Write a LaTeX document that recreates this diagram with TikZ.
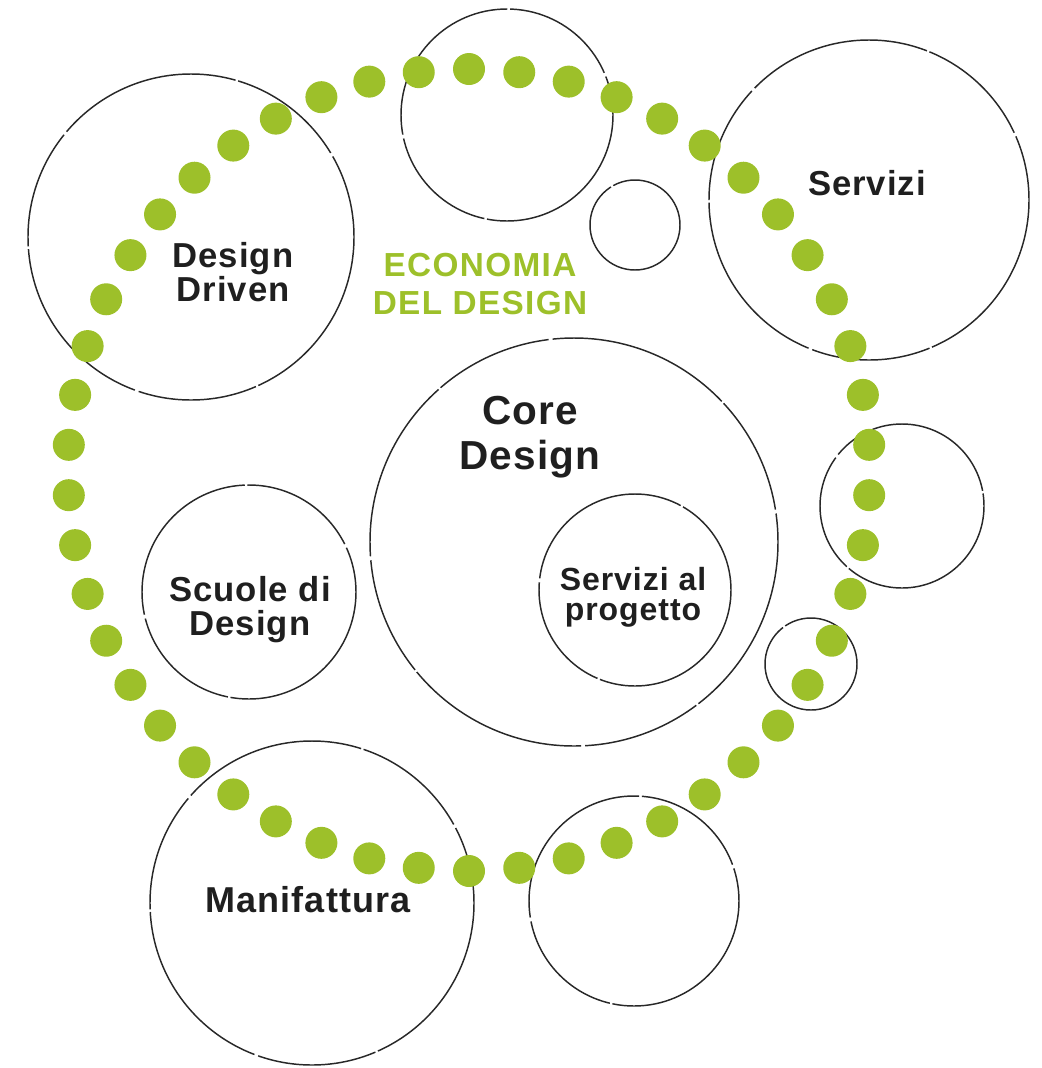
\documentclass[tikz,border=0pt]{standalone}
\usepackage{fontspec}
\setmainfont{Liberation Sans}[LetterSpace=3]
\newfontfamily\econfont{Liberation Sans}[LetterSpace=4]
\definecolor{dotgreen}{RGB}{157,192,42}
\definecolor{inkgray}{RGB}{40,40,40}
\begin{document}
\begin{tikzpicture}[x=0.75pt, y=-0.75pt,
	ring/.style={draw=inkgray, line width=1.1pt, dash pattern=on 140pt off 2pt on 90pt off 3pt},
	lbl/.style={text=black!88, align=center, inner sep=0pt}]
	\useasboundingbox (0,0) rectangle (1042,1068);
	% cerchi
	\draw[ring] (507,115) circle (106);
	\draw[ring] (635,225) circle (45);
	\draw[ring] (869,200) circle (160);
	\draw[ring] (191,237) circle (163);
	\draw[ring] (574,542) circle (204);
	\draw[ring] (635,590) circle (96);
	\draw[ring] (249,592) circle (107);
	\draw[ring] (902,506) circle (82);
	\draw[ring] (811,664) circle (46);
	\draw[ring] (312,903) circle (162);
	\draw[ring] (634,901) circle (105);
	% anello di punti
	\foreach \a in {0,...,49}
		\fill[dotgreen] ({469+401*cos(90+7.2*\a)}, {470-401*sin(90+7.2*\a)}) circle (16);
	% testi
	\node[lbl, font=\fontsize{26}{25}\selectfont\bfseries] (drv) at (233,272) {Design\\Driven};
	\node[lbl, font=\fontsize{26}{25}\selectfont\bfseries, anchor=base] (serv) at (867,195) {Servizi};
	\node[lbl, font=\fontsize{30.4}{34}\selectfont\bfseries] (core) at (530,437) {Core\\Design};
	\node[lbl, font=\fontsize{26}{25.5}\selectfont\bfseries] (scuole) at (250,610) {Scuole di\\Design};
	\node[lbl, font=\fontsize{24}{22.5}\selectfont\bfseries] (prog) at (633,597) {Servizi al\\progetto};
	\node[lbl, font=\fontsize{27}{25}\selectfont\bfseries, anchor=base] (manif) at (308,912) {Manifattura};
	\node[lbl, text=dotgreen, font=\econfont\fontsize{25}{28.5}\selectfont\bfseries] (econ) at (480,284) {ECONOMIA\\DEL DESIGN};
\end{tikzpicture}
\end{document}
